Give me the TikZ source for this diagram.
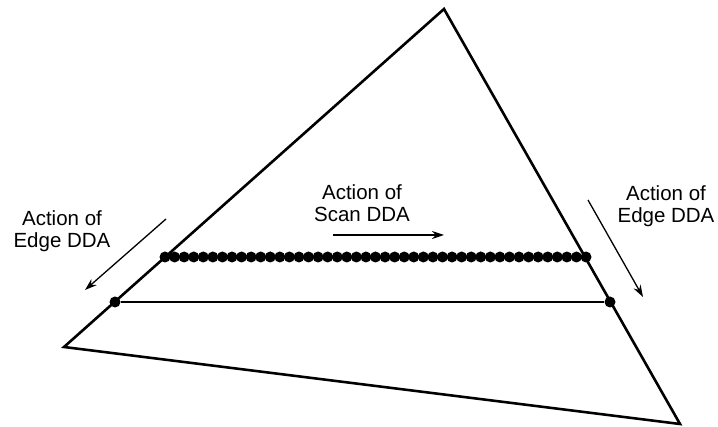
\documentclass[tikz,border=0pt]{standalone}
\usepackage{fontspec}
\setmainfont{Liberation Sans}
\usetikzlibrary{arrows.meta}
\begin{document}
\begin{tikzpicture}[x=1pt,y=-1pt,
  edge/.style={line width=2.6pt,line join=miter},
  span/.style={line width=2pt},
  pixel/.style={circle,fill=black,inner sep=0pt,minimum size=11pt},
  motion/.style={line width=1.3pt,-{Stealth[length=12pt,width=8pt]}},
  caption/.style={align=center,inner sep=0pt,anchor=north,
    font={\fontsize{20.5}{22.5}\selectfont}}]
\useasboundingbox (0,0) rectangle (718,427);
% triangle vertices
\coordinate (top) at (444,9);
\coordinate (bl) at (64,347);
\coordinate (br) at (680,424);
\draw[edge] (top) -- (bl) -- (br) -- cycle;
% span already processed by the edge DDA
\node[pixel] (lo1) at (115,302) {};
\node[pixel] (lo2) at (610,302) {};
\draw[span] (lo1) -- (lo2);
% span being filled by the scan DDA (45 pixels, 421pt apart end to end)
\foreach \i in {0,...,44}
  \node[pixel] (px\i) at ({165+\i*9.5682},257) {};
\draw[span] (px0) -- (px44);
% labels
\node[caption] (lbl) at (62,210) {Action of\\Edge DDA};
\node[caption] (mid) at (362,184) {Action of\\Scan DDA};
\node[caption] (rbl) at (666,185) {Action of\\Edge DDA};
% direction arrows
\coordinate (la1) at (166,219);
\coordinate (la2) at (85,290);
\coordinate (sa1) at (333,235);
\coordinate (sa2) at (444,235);
\coordinate (ra1) at (588,200);
\coordinate (ra2) at (643,297);
\draw[motion] (la1) -- (la2);
\draw[motion] (sa1) -- (sa2);
\draw[motion] (ra1) -- (ra2);
\end{tikzpicture}
\end{document}
